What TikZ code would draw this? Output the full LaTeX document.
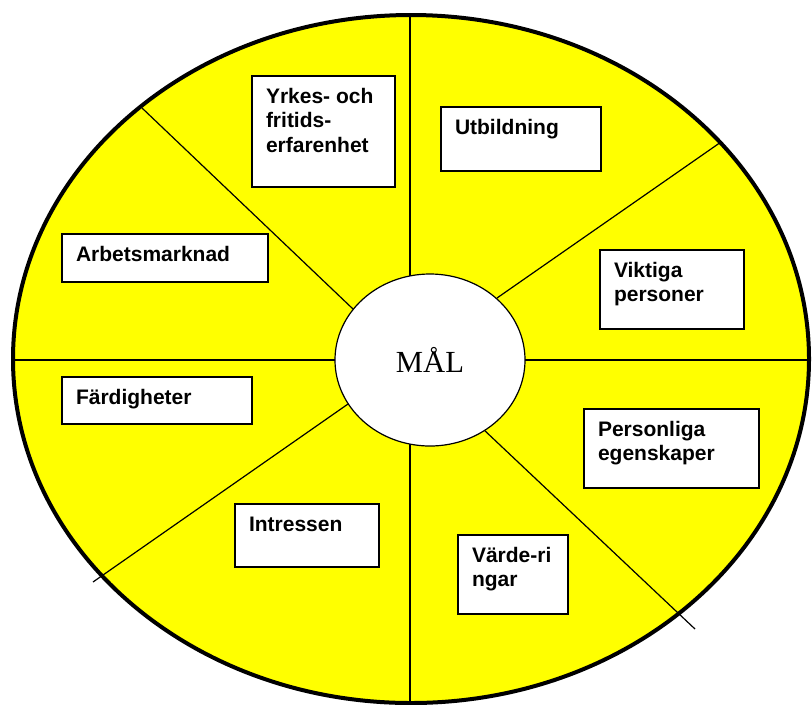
\documentclass[tikz,border=0pt]{standalone}
\usepackage{fontspec}
\usepackage{xcolor}
\usepackage{tikz}
\usetikzlibrary{shapes.geometric}
\newfontfamily\rutafont{Liberation Sans}
\newfontfamily\malfont{Liberation Serif}
\definecolor{gul}{RGB}{255,255,0}
\newlength{\pxlen}
\setlength{\pxlen}{0.75pt}
\newcommand{\rutatext}[3]{\parbox[c][#2\pxlen][t]{\dimexpr #1\pxlen-28\pxlen\relax}{\vspace*{10\pxlen}\raggedright\hyphenpenalty=10000\exhyphenpenalty=10000\strut #3}}
\tikzset{
    ruta/.style={draw, fill=white, line width=1.5pt, anchor=north west, inner xsep=10.5pt, inner ysep=0pt,
        font=\rutafont\bfseries\fontsize{15.75}{18.4}\selectfont},
    sektor/.style={line width=0.9pt}
}

\begin{document}
\begin{tikzpicture}[x=0.75pt,y=-0.75pt]
    \useasboundingbox (0,0) rectangle (812,704);
    % Stor ellips
    \filldraw[fill=gul, line width=3pt] (411,359) ellipse [x radius=298.5pt, y radius=258pt];

    % Sektorlinjer
    \foreach \xa/\ya/\xb/\yb in {410/15/410/276, 410/444/410/704, 142/108/353/309, 721/142/497/298,
        13/360/335/360, 525/360/809/360, 93/582/348/404, 483/429/695/629}
        \draw[sektor] (\xa,\ya) -- (\xb,\yb);

    % Mål i mitten
    \node[draw, ellipse, fill=white, line width=0.9pt, inner sep=0pt, minimum width=142.5pt, minimum height=129pt,
        font=\malfont\fontsize{23}{27}\selectfont] (mal) at (430,360) {MÅL};

    % Rutor
    \node[ruta] (yrkes) at (251,75) {\rutatext{143}{111}{Yrkes- och\\fritids-\\erfarenhet}};
    \node[ruta] (utbildning) at (440,106) {\rutatext{160}{64}{Utbildning}};
    \node[ruta] (viktiga) at (599,249) {\rutatext{144}{79}{Viktiga\\personer}};
    \node[ruta] (arbetsmarknad) at (61,233) {\rutatext{206}{48}{Arbetsmarknad}};
    \node[ruta] (fardigheter) at (61,376) {\rutatext{190}{47}{Färdigheter}};
    \node[ruta] (personliga) at (583,408) {\rutatext{175}{79}{Personliga\\egenskaper}};
    \node[ruta] (intressen) at (234,503) {\rutatext{144}{63}{Intressen}};
    \node[ruta] (varderingar) at (457,534) {\rutatext{110}{79}{Värde-ri\\ngar}};
\end{tikzpicture}
\end{document}
